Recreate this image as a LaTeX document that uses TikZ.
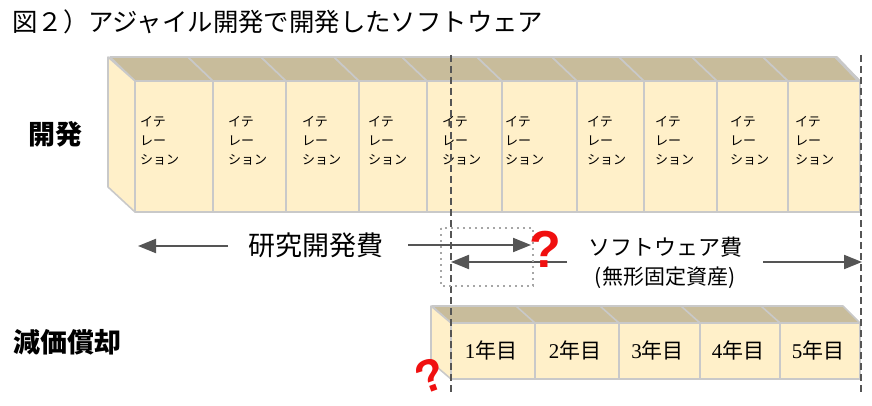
\documentclass[tikz,border=0pt]{standalone}
\usepackage{fontspec}
\setmainfont{Noto Sans CJK JP}
\newfontfamily\serifnum{Liberation Serif}
\newfontfamily\qfont{Liberation Sans}
\usetikzlibrary{arrows.meta}
\definecolor{cream}{HTML}{FFF0C9}
\definecolor{tan}{HTML}{C8BC9B}
\definecolor{edge}{HTML}{C9C9C9}
\definecolor{arrowgray}{HTML}{555555}
\definecolor{qred}{HTML}{F01010}
\tikzset{
  face/.style={fill=cream, draw=edge, line width=1.6pt, line join=round},
  topface/.style={fill=tan, draw=edge, line width=1.6pt, line join=round},
  itertext/.style={anchor=west, align=left, font=\fontsize{13}{19}\selectfont, inner sep=0pt},
  yeartext/.style={font=\fontsize{21}{24}\selectfont, inner sep=0pt},
  rowlabel/.style={font=\fontsize{27}{30}\selectfont\bfseries, inner sep=0pt},
  costarrow/.style={draw=arrowgray, line width=2pt, -{Triangle[length=18pt,width=14pt]}},
  divider/.style={draw=arrowgray, line width=2pt, dash pattern=on 7pt off 4pt},
  qmark/.style={text=qred, font=\fontsize{52}{52}\selectfont\qfont\bfseries, inner sep=0pt},
}
\begin{document}
\begin{tikzpicture}[x=1pt,y=-1pt]
\useasboundingbox (0,0) rectangle (872,406);
% title
\node[anchor=west, inner sep=0pt, font=\fontsize{25.4}{28}\selectfont] (title) at (12,22) {図２）アジャイル開発で開発したソフトウェア};
% row labels
\node[rowlabel] (devlabel) at (55,134) {開発};
\node[rowlabel] (deplabel) at (67,342) {減価償却};

% ---- development row ----
\fill[tan] (110,57) -- (837,57) -- (860,81) -- (135,81) -- cycle;
\foreach \l/\r in {135/213,213/286,286/359,359/427,427/502,502/577,577/644,644/717,717/788,788/860}{
  \path[topface] (\l-25,57) -- (\r-25,57) -- (\r,81) -- (\l,81) -- cycle;
}
\path[topface] (835,57) -- (837,57) -- (860,81) -- (858,81) -- cycle;
\path[face] (108,57) -- (135,81) -- (135,212) -- (108,187) -- cycle;
\foreach \l/\r in {135/213,213/286,286/359,359/427,427/502,502/577,577/644,644/717,717/788,788/860}{
  \path[face] (\l,81) rectangle (\r,212);
}
\foreach \x/\n in {140/1,228/2,302/3,368/4,442/5,505/6,587/7,655/8,730/9,795/10}{
  \node[itertext] (it\n) at (\x,141) {イテ\\レー\\ション};
}

% ---- depreciation row ----
\foreach \l/\r in {451/535,535/619,619/700,700/780,780/860}{
  \path[topface] (\l-19,306) -- (\r-17,306) -- (\r,323) -- (\l,323) -- cycle;
}
\path[face] (431,306) -- (451,323) -- (451,379) -- (431,362) -- cycle;
\foreach \l/\r/\t/\n in {451/535/1/1,535/619/2/2,619/700/3/3,700/780/4/4,780/860/5/5}{
  \path[face] (\l,323) rectangle (\r,379);
  \node[yeartext] (y\n) at ({(\l+\r)/2-2},350) {{\serifnum\t}年目};
}

% ---- dashed dividers ----
\coordinate (d1top) at (451,55);
\coordinate (d1bot) at (451,393);
\coordinate (d2top) at (861,55);
\coordinate (d2bot) at (861,393);
\draw[divider] (d1top) -- (d1bot);
\draw[divider] (d2top) -- (d2bot);

% ---- cost labels and arrows ----
\node[inner sep=0pt, font=\fontsize{27}{30}\selectfont] (rd) at (316,245) {研究開発費};
\node[inner sep=0pt, font=\fontsize{22}{26}\selectfont] (sw) at (665,247) {ソフトウェア費};
\node[inner sep=0pt, font=\fontsize{21}{24}\selectfont] (swsub) at (665,278) {(無形固定資産)};

\coordinate (a1s) at (228,246);
\coordinate (a1e) at (138,246);
\coordinate (a2s) at (408,245);
\coordinate (a2e) at (531,245);
\coordinate (a3s) at (567,262);
\coordinate (a3e) at (451,262);
\coordinate (a4s) at (763,262);
\coordinate (a4e) at (862,262);
\draw[costarrow] (a1s) -- (a1e);
\draw[costarrow] (a2s) -- (a2e);
\draw[costarrow] (a3s) -- (a3e);
\draw[costarrow] (a4s) -- (a4e);

% dotted box
\draw[draw=gray!70, line width=1.6pt, dash pattern=on 1.6pt off 4.4pt] (441,228) rectangle (533,286);

% question marks
\node[qmark] (q1) at (545,249) {?};
\node[qmark, rotate=20, font=\fontsize{46}{46}\selectfont\qfont\bfseries] (q2) at (430,376) {?};
\end{tikzpicture}
\end{document}
